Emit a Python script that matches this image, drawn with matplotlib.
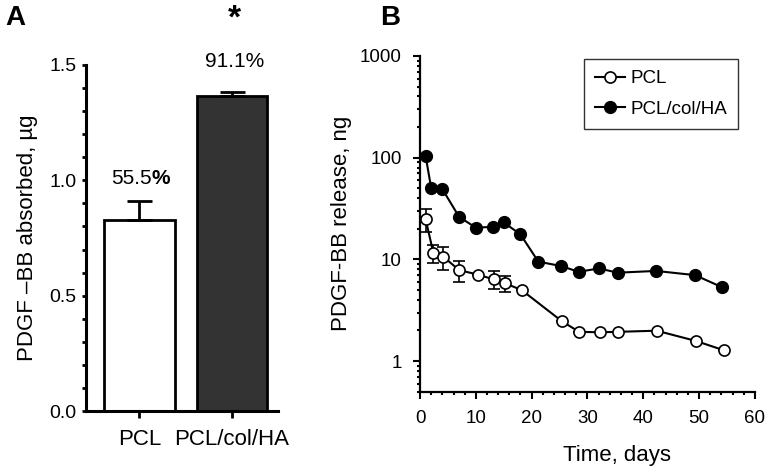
import numpy as np
import matplotlib
matplotlib.use("Agg")
import matplotlib.pyplot as plt
from matplotlib.ticker import MultipleLocator, LogLocator, FixedLocator, NullFormatter

plt.rcParams['font.family'] = ['Liberation Sans', 'DejaVu Sans']

# panel A
grupos = ["PCL", "PCL/col/HA"]
absorbido = [0.828, 1.366]
absorbido_sd = [0.081, 0.017]
porcentajes = ["55.5", "91.1"]

# panel B
dias_pcl = [1, 2.4, 4.2, 7, 10.3, 13.2, 15.3, 18.2, 25.4, 28.5, 32.2, 35.5, 42.4, 49.4, 54.4]
liberado_pcl = [24.9, 11.5, 10.6, 7.85, 7.1, 6.36, 5.8, 5.0, 2.47, 1.94, 1.92, 1.94, 1.99, 1.58, 1.28]
sd_pcl = [6.5, 2.2, 2.7, 1.8, 0, 1.3, 1.0, 0, 0, 0, 0, 0, 0, 0, 0]
dias_hibrido = [1, 2, 4, 7, 10, 13, 15, 18, 21.2, 25.3, 28.4, 32.1, 35.4, 42.3, 49.3, 54.2]
liberado_hibrido = [104, 50.2, 49.1, 26.2, 20.5, 20.9, 23.1, 17.6, 9.5, 8.6, 7.55, 8.15, 7.4, 7.7, 7.0, 5.3]

fig = plt.figure(figsize=(7.69, 4.72), dpi=100)

# ---- A ----
axA = fig.add_axes([0.1118, 0.1292, 0.2497, 0.7331])
pos = np.arange(len(grupos))
axA.bar(pos, absorbido, width=0.764, color=["white", "#333333"], edgecolor="black", linewidth=2,
        yerr=[[0, 0], absorbido_sd], error_kw=dict(ecolor="black", elinewidth=2, capsize=9, capthick=2))
axA.set_xlim(-0.577, 1.497)
axA.set_ylim(0, 1.5)
axA.set_xticks(pos)
axA.set_xticklabels(grupos, fontsize=16)
axA.set_yticks([0.0, 0.5, 1.0, 1.5])
axA.set_yticklabels(["0.0", "0.5", "1.0", "1.5"], fontsize=14)
axA.yaxis.set_minor_locator(MultipleLocator(0.1))
axA.tick_params(axis="y", which="both", direction="out", length=3, width=2, pad=4)
axA.tick_params(axis="x", which="major", direction="out", length=5, width=2, pad=8)
for s in ["top", "right"]:
    axA.spines[s].set_visible(False)
for s in ["left", "bottom"]:
    axA.spines[s].set_linewidth(2.2)
axA.set_ylabel("PDGF \u2013BB absorbed, \u00b5g", fontsize=16, labelpad=8)

# porcentajes, el % de PCL va en negrita como en el original
axA.text(pos[0] + 0.13, 1.007, porcentajes[0], fontsize=15, ha="right", va="center")
axA.text(pos[0] + 0.13, 1.007, "%", fontsize=15, ha="left", va="center", fontweight="bold")
axA.text(pos[1] + 0.03, 1.517, porcentajes[1] + "%", fontsize=15, ha="center", va="center", clip_on=False)
axA.text(pos[1] + 0.03, 1.70, "*", fontsize=24, ha="center", va="center", fontweight="bold", clip_on=False)

# ---- B ----
axB = fig.add_axes([0.5462, 0.1701, 0.4354, 0.7113])
eb = axB.errorbar(dias_pcl, liberado_pcl, yerr=sd_pcl, fmt="-o", color="black", mfc="white", mec="black",
                  ms=8, mew=1.2, lw=1.5, ecolor="black", elinewidth=1.2, capsize=4.5, capthick=1.2,
                  zorder=3)
linea_h, = axB.plot(dias_hibrido, liberado_hibrido, "-o", color="black", mfc="black", ms=8.5, lw=1.5,
                    zorder=3)
axB.set_yscale("log")
axB.set_ylim(0.5, 1000)
axB.set_xlim(0, 60)
axB.yaxis.set_major_locator(FixedLocator([1, 10, 100, 1000]))
axB.set_yticklabels(["1", "10", "100", "1000"], fontsize=13.5)
axB.yaxis.set_minor_locator(LogLocator(base=10, subs=np.arange(2, 10)))
axB.yaxis.set_minor_formatter(NullFormatter())
axB.xaxis.set_major_locator(MultipleLocator(10))
axB.xaxis.set_minor_locator(MultipleLocator(2))
axB.tick_params(axis="x", labelsize=13.5)
axB.tick_params(axis="both", which="major", direction="out", length=5, width=1.5, pad=8)
axB.tick_params(axis="both", which="minor", direction="out", length=2.5, width=1.5)
for s in ["top", "right"]:
    axB.spines[s].set_visible(False)
for s in ["left", "bottom"]:
    axB.spines[s].set_linewidth(1.6)
axB.set_ylabel("PDGF-BB release, ng", fontsize=16, labelpad=6)
axB.set_xlabel("Time, days", fontsize=16)
axB.xaxis.set_label_coords(0.5875, -0.16)

leg = axB.legend([eb.lines[0], linea_h], ["PCL", "PCL/col/HA"],
                 loc="upper left", bbox_to_anchor=(0.49, 0.991), fontsize=13.5, frameon=True,
                 fancybox=False, edgecolor="black", handlelength=1.6, handletextpad=0.25,
                 labelspacing=0.7, borderpad=0.6, borderaxespad=0)
leg.get_frame().set_linewidth(1)

fig.text(0.02, 0.962, "A", fontsize=20, fontweight="bold", ha="center", va="center")
fig.text(0.507, 0.962, "B", fontsize=20, fontweight="bold", ha="center", va="center")

fig.savefig("out.png", dpi=100)
